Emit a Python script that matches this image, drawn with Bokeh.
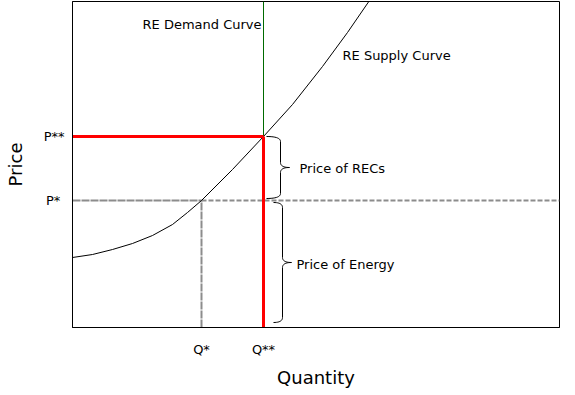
import numpy as np
from bokeh.plotting import figure
from bokeh.models import Range1d, FixedTicker
from bokeh.core.properties import value
from bokeh.embed import file_html
from bokeh.resources import INLINE

# ---- data (quantity / price units) ----
supply_q = [0, 20, 40, 60, 80, 100, 115, 129, 160, 191, 220, 250, 275, 297]
supply_p = [70, 73, 78, 84, 92, 103, 115, 127, 158, 191, 223, 261, 295, 327]
q_star, q_2star = 129, 191
p_star, p_2star = 127, 191
q_ticks = [q_star, q_2star]
q_tick_labels = ["Q*", "Q**"]
p_ticks = [p_star, p_2star]
p_tick_labels = ["P*\u00a0", "P**"]
Q_MAX, P_MAX = 487, 326

FONT = "DejaVu Sans"

p = figure(width=575, height=395,
           x_range=Range1d(0, Q_MAX), y_range=Range1d(0, P_MAX),
           output_backend="svg", toolbar_location=None,
           min_border_left=72, min_border_right=16,
           min_border_top=1, min_border_bottom=68)
p.xgrid.visible = False
p.ygrid.visible = False
p.outline_line_color = "black"
p.outline_line_width = 1
p.outline_line_alpha = 1
p.background_fill_color = "white"
p.border_fill_color = "white"

for ax, ticks, labels, name in ((p.xaxis[0], q_ticks, q_tick_labels, "Quantity"),
                                (p.yaxis[0], p_ticks, p_tick_labels, "Price")):
    ax.ticker = FixedTicker(ticks=ticks)
    ax.major_label_overrides = {t: l for t, l in zip(ticks, labels)}
    ax.major_tick_line_color = None
    ax.minor_tick_line_color = None
    ax.major_tick_out = 0
    ax.major_tick_in = 0
    ax.axis_line_color = "black"
    ax.major_label_text_font = FONT
    ax.major_label_text_font_size = "13px"
    ax.major_label_text_color = "black"
    ax.axis_label = name
    ax.axis_label_text_font = FONT
    ax.axis_label_text_font_size = "18px"
    ax.axis_label_text_font_style = "normal"
    ax.axis_label_text_color = "black"

p.xaxis.major_label_standoff = 14
p.xaxis.axis_label_standoff = 7
p.yaxis.major_label_standoff = 8
p.yaxis.axis_label_standoff = 15

# market-price reference lines (grey)
grey = "#8c8c8c"
p.line([0, q_star], [p_star, p_star], line_color=grey, line_width=2, line_dash="8 1")
p.line([q_star, q_star], [0, p_star], line_color=grey, line_width=2, line_dash="8 1")
p.line([q_star, Q_MAX], [p_star, p_star], line_color=grey, line_width=2, line_dash="5 2")

# supply curve
p.line(supply_q, supply_p, line_color="black", line_width=1)

# demand curve (vertical)
p.line([q_2star, q_2star], [p_2star, P_MAX], line_color="#006a00", line_width=1)

# red price / quantity lines
p.line([0, q_2star], [p_2star, p_2star], line_color="#ff0000", line_width=3)
p.line([q_2star, q_2star], [0, p_2star], line_color="#ff0000", line_width=3)


def quad(p0, c, p1, n=12):
    t = np.linspace(0, 1, n)[:, None]
    p0, c, p1 = map(np.array, (p0, c, p1))
    return (1 - t) ** 2 * p0 + 2 * (1 - t) * t * c + t ** 2 * p1


def brace(x0, xv, xt, y_top, y_bot, r=5):
    ym = (y_top + y_bot) / 2
    segs = [
        quad((x0, y_top), (xv, y_top), (xv, y_top - r)),
        np.array([(xv, y_top - r), (xv, ym + r)]),
        quad((xv, ym + r), (xv, ym), (xt, ym)),
        quad((xt, ym), (xv, ym), (xv, ym - r)),
        np.array([(xv, ym - r), (xv, y_bot + r)]),
        quad((xv, y_bot + r), (xv, y_bot), (x0, y_bot)),
    ]
    pts = np.vstack(segs)
    return pts[:, 0], pts[:, 1]


bx, by = brace(q_2star + 3, q_2star + 17, q_2star + 26, p_2star, p_star + 2)
p.line(bx, by, line_color="black", line_width=1)
bx, by = brace(q_2star + 10, q_2star + 19, q_2star + 28, p_star - 2, 5)
p.line(bx, by, line_color="black", line_width=1)

txt = dict(text_font=value(FONT), text_font_size=value("13px"),
           text_color="black", text_baseline="middle")
p.text(x=[q_2star - 2], y=[303], text=["RE Demand Curve"], text_align="right", **txt)
p.text(x=[270], y=[272], text=["RE Supply Curve"], text_align="left", **txt)
p.text(x=[q_2star + 36], y=[(p_star + p_2star) / 2], text=["Price of RECs"],
       text_align="left", **txt)
p.text(x=[q_2star + 33], y=[p_star / 2], text=["Price of Energy"],
       text_align="left", **txt)

open("out.html", "w").write(file_html(p, INLINE))
